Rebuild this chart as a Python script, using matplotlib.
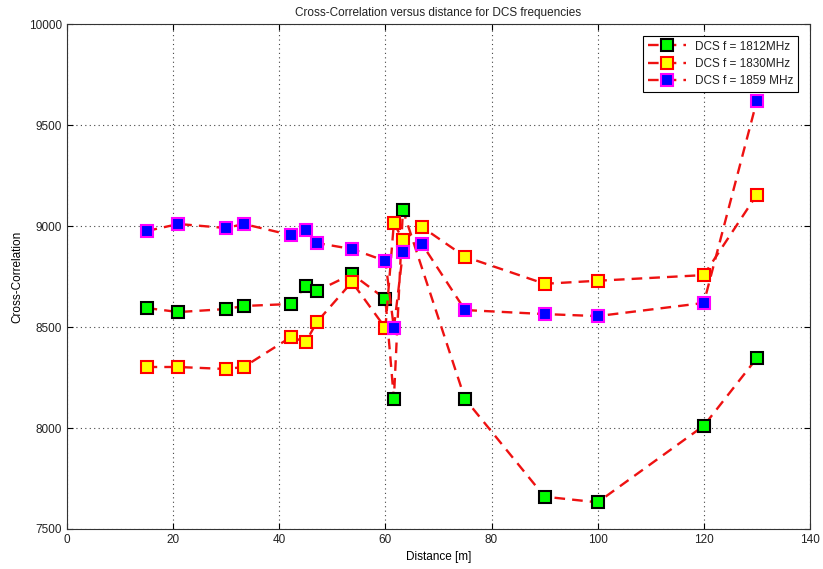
import matplotlib
matplotlib.use('Agg')
import matplotlib.pyplot as plt

# data
x_1812 = [15, 21, 30, 33.3, 42.2, 45, 47.1, 53.7, 60, 61.6, 63.3, 75, 90, 100, 120, 130]
y_1812 = [8594, 8574, 8589, 8604, 8614, 8703, 8678, 8762, 8639, 8144, 9079, 8144, 7660, 7632, 8011, 8346]

x_1830 = [15, 21, 30, 33.3, 42.2, 45, 47.1, 53.7, 60, 61.6, 63.3, 66.9, 75, 90, 100, 120, 130]
y_1830 = [8302, 8302, 8292, 8302, 8450, 8426, 8525, 8723, 8495, 9015, 8931, 8995, 8848, 8714, 8729, 8757, 9155]

x_1859 = [15, 21, 30, 33.3, 42.2, 45, 47.1, 53.7, 60, 61.6, 63.3, 66.9, 75, 90, 100, 120, 130]
y_1859 = [8975, 9010, 8990, 9010, 8955, 8980, 8916, 8886, 8827, 8495, 8871, 8911, 8584, 8564, 8554, 8619, 9620]

labels = ['DCS f = 1812MHz', 'DCS f = 1830MHz', 'DCS f = 1859 MHz']
faces = ['#00ff00', '#ffff00', '#0000ff']
edges = ['black', 'red', '#ff00ff']

plt.rcParams['font.family'] = ['Liberation Sans', 'DejaVu Sans']
plt.rcParams['text.color'] = '#222222'
plt.rcParams['xtick.labelcolor'] = '#222222'
plt.rcParams['ytick.labelcolor'] = '#222222'

fig = plt.figure(figsize=(8.23, 5.69), dpi=100)
ax = fig.add_axes([0.0814, 0.0703, 0.9027, 0.8875])

series = [(x_1812, y_1812), (x_1830, y_1830), (x_1859, y_1859)]
for (xs, ys), lab, fc, ec in zip(series, labels, faces, edges):
    ax.plot(xs, ys, linestyle='--', color='#ee1111', linewidth=1.7, dashes=(4.5, 3),
            marker='s', markersize=8, markerfacecolor=fc, markeredgecolor=ec,
            markeredgewidth=1.5, label=lab)

ax.set_xlim(0, 140)
ax.set_ylim(7500, 10000)
ax.set_xticks(range(0, 141, 20))
ax.set_yticks(range(7500, 10001, 500))
ax.grid(True, linestyle=(0, (1, 3)), color='#444444', linewidth=0.8)
ax.tick_params(direction='in', top=True, right=True, labelsize=8.5, length=4)
for s in ax.spines.values():
    s.set_color('#333333')
ax.set_xlabel('Distance [m]', fontsize=8.5)
ax.set_ylabel('Cross-Correlation', fontsize=8.5)
ax.set_title('Cross-Correlation versus distance for DCS frequencies', fontsize=8.5)

leg = ax.legend(loc='upper right', fontsize=8.5, fancybox=False, framealpha=1,
                edgecolor='black', borderaxespad=1.0, handlelength=3.2,
                labelspacing=0.45)
leg.get_frame().set_linewidth(0.8)

fig.savefig('out.png', dpi=100)
